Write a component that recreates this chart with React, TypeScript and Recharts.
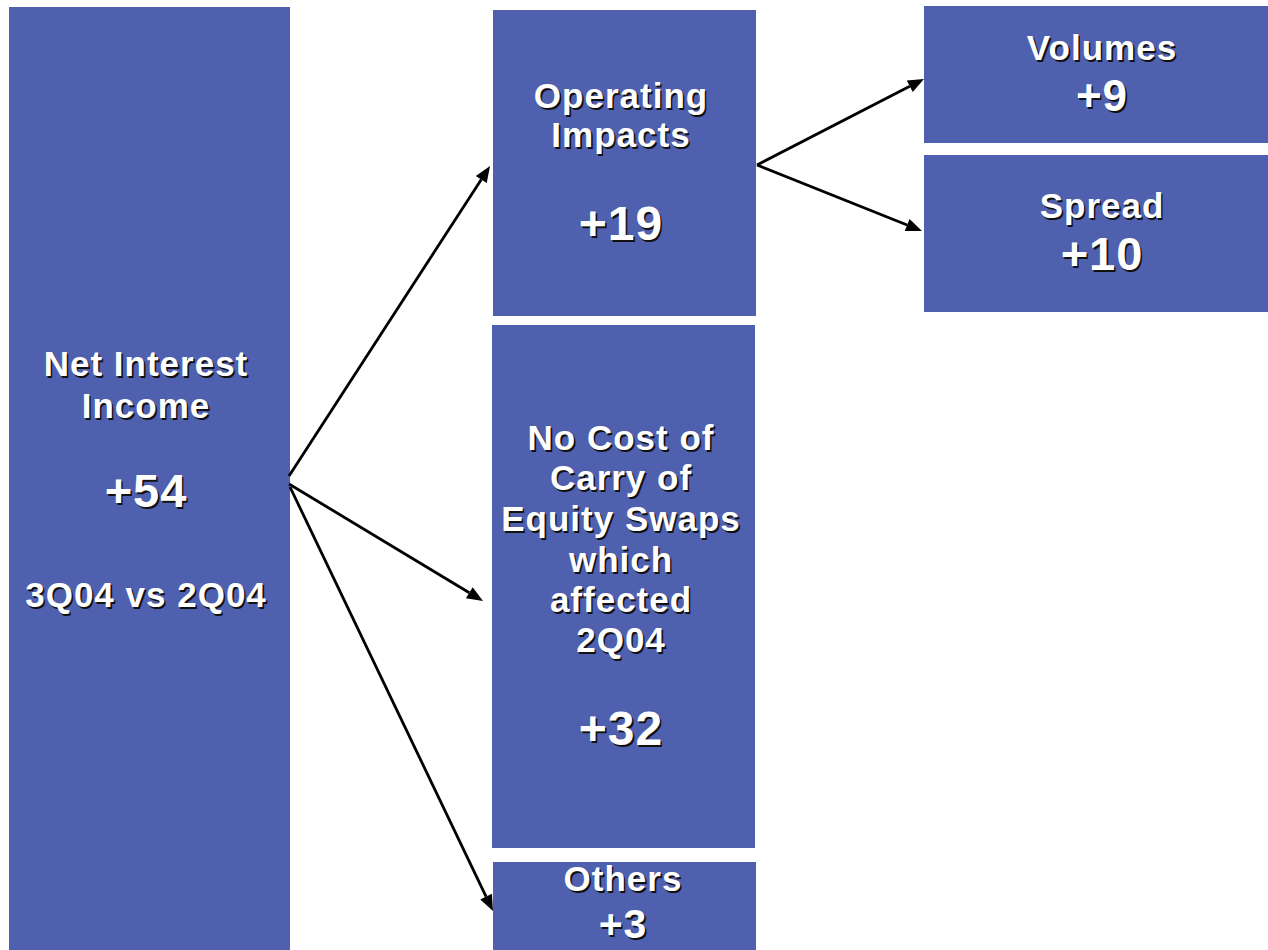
import React from "react";
import { ComposedChart, XAxis, YAxis, ReferenceArea, ReferenceLine } from "recharts";

// ---- data ----
const nodeNames = [
  "Net Interest Income",
  "Operating Impacts",
  "No Cost of Carry of Equity Swaps which affected 2Q04",
  "Others",
  "Volumes",
  "Spread",
];
const nodeValues = [54, 19, 32, 3, 9, 10];
const nodeLabelLines = [
  ["Net Interest", "Income"],
  ["Operating", "Impacts"],
  ["No Cost of", "Carry of", "Equity Swaps", "which", "affected", "2Q04"],
  ["Others"],
  ["Volumes"],
  ["Spread"],
];
const periodLabel = "3Q04 vs 2Q04";
const links: [number, number][] = [
  [0, 1],
  [0, 2],
  [0, 3],
  [1, 4],
  [1, 5],
];

// ---- layout (positions / styles) ----
const W = 1268;
const H = 950;
const BOX_FILL = "#4F60AE";
const FONT = "'Liberation Sans', Arial, sans-serif";

type BoxLayout = {
  x1: number; x2: number; y1: number; y2: number;
  cx: number;
  lineBase: number[]; labelSize: number;
  valueBase: number; valueSize: number;
  extraBase?: number;
};
const boxLayout: BoxLayout[] = [
  { x1: 9, x2: 290, y1: 7, y2: 950, cx: 146, lineBase: [376, 418], labelSize: 35, valueBase: 507, valueSize: 47, extraBase: 607 },
  { x1: 493, x2: 756, y1: 10, y2: 316, cx: 621, lineBase: [108, 147], labelSize: 35, valueBase: 240, valueSize: 48 },
  { x1: 492, x2: 755, y1: 325, y2: 848, cx: 621, lineBase: [450, 490, 531, 572, 612, 652], labelSize: 35, valueBase: 745, valueSize: 48 },
  { x1: 493, x2: 756, y1: 862, y2: 950, cx: 623, lineBase: [891], labelSize: 35, valueBase: 938, valueSize: 41 },
  { x1: 924, x2: 1268, y1: 6, y2: 143, cx: 1102, lineBase: [60], labelSize: 35, valueBase: 111, valueSize: 44 },
  { x1: 924, x2: 1268, y1: 155, y2: 312, cx: 1102, lineBase: [218], labelSize: 35, valueBase: 270, valueSize: 47 },
];
// arrow start / end points per link
const linkLayout = [
  { from: [289, 476], to: [490, 166] },
  { from: [289, 484], to: [483, 601] },
  { from: [290, 487], to: [493, 911] },
  { from: [757, 165], to: [924, 79] },
  { from: [757, 165], to: [922, 231] },
];

const ShadowText = ({ x, y, size, children }: any) => (
  <g>
    <text x={x + 1.6} y={y + 1.6} textAnchor="middle" fontFamily={FONT} fontWeight="bold"
      fontSize={size} letterSpacing={1} fill="#111">{children}</text>
    <text x={x} y={y} textAnchor="middle" fontFamily={FONT} fontWeight="bold"
      fontSize={size} letterSpacing={1} fill="#ffffff">{children}</text>
  </g>
);

const makeBoxShape = (i: number) => (props: any) => {
  const L = boxLayout[i];
  const { x, y, width, height } = props;
  const dy = y - L.y1;
  const dx = x - L.x1;
  return (
    <g>
      <rect x={x} y={y} width={width} height={height} fill={BOX_FILL} />
      {nodeLabelLines[i].map((line, k) => (
        <ShadowText key={k} x={L.cx + dx} y={L.lineBase[k] + dy} size={L.labelSize}>{line}</ShadowText>
      ))}
      <ShadowText x={L.cx + dx} y={L.valueBase + dy} size={L.valueSize}>{`+${nodeValues[i]}`}</ShadowText>
      {L.extraBase !== undefined && (
        <ShadowText x={L.cx + dx} y={L.extraBase + dy} size={L.labelSize}>{periodLabel}</ShadowText>
      )}
    </g>
  );
};

const ArrowShape = (props: any) => {
  const { x1, y1, x2, y2 } = props;
  const ang = Math.atan2(y2 - y1, x2 - x1);
  const len = 16;
  const half = 6.5;
  const bx = x2 - len * Math.cos(ang);
  const by = y2 - len * Math.sin(ang);
  const px = -Math.sin(ang) * half;
  const py = Math.cos(ang) * half;
  return (
    <g>
      <line x1={x1} y1={y1} x2={bx} y2={by} stroke="#000" strokeWidth={2.8} />
      <polygon points={`${x2},${y2} ${bx + px},${by + py} ${bx - px},${by - py}`} fill="#000" />
    </g>
  );
};

const rows = nodeNames.map((name, i) => ({ name, value: nodeValues[i] }));

export default function App() {
  return (
    <div style={{ position: "absolute", left: 0, top: 0, width: W, height: H, background: "#fff" }}>
      <ComposedChart width={W} height={H} data={rows} margin={{ top: 0, right: 0, bottom: 0, left: 0 }}>
        <XAxis type="number" dataKey="value" hide domain={[0, W]} allowDataOverflow />
        <YAxis type="number" hide domain={[0, H]} reversed allowDataOverflow />
        {boxLayout.map((b, i) => (
          <ReferenceArea key={`box-${i}`} x1={b.x1} x2={b.x2} y1={b.y1} y2={b.y2}
            ifOverflow="visible" shape={makeBoxShape(i)} />
        ))}
        {links.map((lk, i) => (
          <ReferenceLine key={`link-${lk[0]}-${lk[1]}`} ifOverflow="visible"
            segment={[
              { x: linkLayout[i].from[0], y: linkLayout[i].from[1] },
              { x: linkLayout[i].to[0], y: linkLayout[i].to[1] },
            ]}
            shape={ArrowShape} />
        ))}
      </ComposedChart>
    </div>
  );
}
